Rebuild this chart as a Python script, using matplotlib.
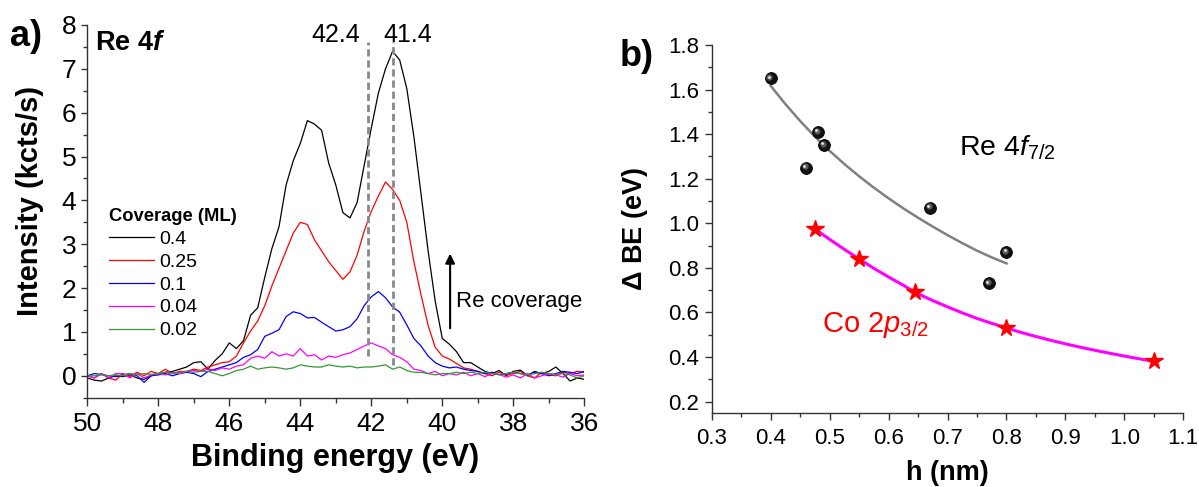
import numpy as np
import matplotlib
matplotlib.use("Agg")
import matplotlib.pyplot as plt
from matplotlib.transforms import offset_copy
from matplotlib.ticker import MultipleLocator

plt.rcParams['font.family'] = ['Liberation Sans', 'DejaVu Sans']
plt.rcParams['mathtext.fontset'] = 'custom'
plt.rcParams['mathtext.rm'] = 'Liberation Sans'
plt.rcParams['mathtext.it'] = 'Liberation Sans:italic'
plt.rcParams['mathtext.bf'] = 'Liberation Sans:bold'
try:
    plt.rcParams['mathtext.bfit'] = 'Liberation Sans:italic:bold'
except KeyError:
    pass

# ---------------- data: panel a ----------------
energy = np.linspace(50.0, 36.0, 71)  # binding energy grid (eV), 0.2 eV step
coverage_labels = ['0.4', '0.25', '0.1', '0.04', '0.02']
coverage_colors = ['#000000', '#ff0000', '#0000ff', '#ff00ff', '#339933']

int_040 = [-0.05, -0.10, -0.12, -0.05, 0.00, -0.02, 0.02, -0.05, -0.08, 0.00,
           0.05, 0.08, 0.10, 0.15, 0.20, 0.30, 0.32, 0.15, 0.35, 0.50,
           0.75, 0.62, 0.80, 1.38, 1.55, 2.25, 2.90, 3.40, 4.35, 4.90,
           5.30, 5.82, 5.74, 5.60, 4.85, 4.35, 3.72, 3.60, 3.95, 4.80,
           5.65, 6.45, 7.00, 7.40, 7.20, 6.55, 5.45, 4.15, 2.85, 1.70,
           0.85, 0.72, 0.55, 0.30, 0.30, 0.20, 0.10, 0.05, 0.12, 0.00,
           0.10, 0.13, 0.00, 0.10, 0.05, 0.10, 0.20, 0.05, -0.12, -0.05,
           -0.08]
int_025 = [0.00, -0.05, 0.05, -0.05, -0.10, 0.05, -0.02, 0.08, 0.00, 0.10,
           0.05, 0.15, 0.05, 0.10, 0.10, 0.15, 0.12, 0.20, 0.25, 0.30,
           0.32, 0.45, 0.75, 1.02, 1.25, 1.60, 2.05, 2.45, 2.85, 3.25,
           3.50, 3.45, 3.10, 2.85, 2.60, 2.40, 2.20, 2.37, 2.75, 3.30,
           3.75, 4.10, 4.42, 4.25, 4.00, 3.50, 2.60, 1.85, 1.15, 0.65,
           0.45, 0.38, 0.28, 0.18, 0.15, 0.10, 0.05, 0.00, 0.08, 0.02,
           0.05, 0.10, 0.00, -0.05, 0.08, 0.02, 0.00, 0.08, 0.05, 0.10,
           0.08]
int_010 = [0.00, 0.05, 0.03, 0.00, -0.02, 0.02, 0.05, 0.00, -0.15, 0.00,
           0.02, 0.05, 0.00, 0.05, 0.08, 0.05, -0.02, 0.10, 0.15, 0.20,
           0.25, 0.30, 0.42, 0.48, 0.60, 0.90, 0.97, 1.05, 1.35, 1.46,
           1.42, 1.32, 1.33, 1.22, 1.12, 1.02, 1.05, 1.12, 1.30, 1.60,
           1.80, 1.92, 1.78, 1.57, 1.45, 1.16, 0.85, 0.68, 0.45, 0.30,
           0.22, 0.18, 0.20, 0.15, 0.12, 0.10, 0.05, 0.08, 0.02, 0.05,
           0.08, 0.05, 0.02, 0.08, 0.05, 0.00, 0.05, 0.10, 0.08, 0.05,
           0.10]
int_004 = [0.00, -0.05, 0.05, -0.05, 0.05, 0.05, -0.05, 0.05, -0.05, 0.02,
           0.05, 0.02, 0.08, 0.05, 0.10, 0.12, 0.10, 0.15, 0.12, 0.18,
           0.15, 0.22, 0.25, 0.40, 0.45, 0.40, 0.55, 0.45, 0.50, 0.45,
           0.62, 0.45, 0.48, 0.36, 0.45, 0.42, 0.48, 0.52, 0.60, 0.68,
           0.75, 0.68, 0.62, 0.48, 0.42, 0.32, 0.15, 0.12, 0.05, 0.10,
           0.00, 0.05, 0.02, 0.08, 0.00, 0.05, -0.02, 0.05, 0.03, -0.03,
           0.02, -0.05, 0.05, -0.05, 0.00, 0.05, 0.02, -0.03, 0.05, 0.00,
           0.02]
int_002 = [0.00, 0.00, 0.02, 0.00, 0.02, 0.00, 0.05, 0.02, 0.05, 0.03,
           0.05, 0.08, 0.05, 0.08, 0.10, 0.08, 0.10, 0.10, 0.05, 0.00,
           0.05, 0.12, 0.15, 0.22, 0.15, 0.18, 0.20, 0.18, 0.15, 0.18,
           0.25, 0.22, 0.20, 0.20, 0.25, 0.22, 0.20, 0.22, 0.18, 0.20,
           0.20, 0.22, 0.25, 0.15, 0.20, 0.12, 0.08, 0.08, 0.05, 0.02,
           0.05, 0.05, 0.08, 0.05, 0.08, 0.05, 0.08, 0.05, 0.03, 0.05,
           0.08, 0.05, 0.02, 0.05, 0.08, 0.05, 0.03, 0.05, 0.02, -0.05,
           0.00]
spectra = [int_040, int_025, int_010, int_004, int_002]
peak_lines = [42.1, 41.4]
peak_line_bottoms = [0.45, 0.25]
peak_labels = ['42.4', '41.4']

# ---------------- data: panel b ----------------
re_h = [0.40, 0.48, 0.49, 0.46, 0.67, 0.80, 0.77]
re_dbe = [1.65, 1.41, 1.35, 1.25, 1.07, 0.87, 0.73]
re_fit_h = [0.400, 0.425, 0.450, 0.475, 0.500, 0.525, 0.550, 0.575, 0.600,
            0.625, 0.650, 0.675, 0.700, 0.725, 0.750, 0.775, 0.800]
re_fit_dbe = [1.617, 1.535, 1.459, 1.389, 1.325, 1.266, 1.211, 1.160, 1.112,
              1.067, 1.025, 0.985, 0.947, 0.911, 0.877, 0.847, 0.820]
co_h = [0.475, 0.55, 0.645, 0.80, 1.05]
co_dbe = [0.975, 0.84, 0.69, 0.53, 0.38]
co_fit_h = [0.475, 0.500, 0.525, 0.550, 0.575, 0.600, 0.625, 0.645, 0.675,
            0.700, 0.725, 0.750, 0.775, 0.800, 0.825, 0.850, 0.875, 0.900,
            0.925, 0.950, 0.975, 1.000, 1.025, 1.050]
co_fit_dbe = [0.975, 0.928, 0.883, 0.840, 0.798, 0.759, 0.722, 0.690, 0.653,
              0.625, 0.598, 0.573, 0.551, 0.530, 0.510, 0.492, 0.475, 0.459,
              0.444, 0.430, 0.417, 0.404, 0.392, 0.380]

W, H = 1199, 487
fig = plt.figure(figsize=(W / 100, H / 100), dpi=100)

def fx(px):
    return px / W

def fy(py):
    return 1 - py / H

# ---------------- panel a ----------------
axa = fig.add_axes([fx(87.3), fy(397.7), fx(584.3) - fx(87.3), fy(25) - fy(397.7)])
for vals, lab, col in zip(spectra, coverage_labels, coverage_colors):
    axa.plot(energy, vals, color=col, lw=0.9, label=lab)
for xv, yb in zip(peak_lines, peak_line_bottoms):
    axa.plot([xv, xv], [yb, 7.62], color='#888888', lw=2.0, ls=(0, (2.6, 1.4)))
axa.set_xlim(50, 36)
axa.set_ylim(-0.5, 8)
axa.xaxis.set_major_locator(MultipleLocator(2))
axa.xaxis.set_minor_locator(MultipleLocator(1))
axa.yaxis.set_minor_locator(MultipleLocator(0.5))
axa.set_yticks([0, 1, 2, 3, 4, 5, 6, 7, 8])
for s in ['top', 'right']:
    axa.spines[s].set_visible(False)
for s in ['left', 'bottom']:
    axa.spines[s].set_linewidth(1.0)
    axa.spines[s].set_color('#333333')
axa.tick_params(axis='x', which='major', direction='out', length=6, width=1, labelsize=19, pad=4, colors='#333333', labelcolor='black')
axa.tick_params(axis='x', which='minor', direction='out', length=3.5, width=1, colors='#333333')
axa.tick_params(axis='y', which='major', direction='out', length=4, width=1, labelsize=19, pad=4, colors='#333333', labelcolor='black')
axa.tick_params(axis='y', which='minor', direction='out', length=3, width=1, colors='#333333')

fig.text(fx(335), fy(458), 'Binding energy (eV)', ha='center', va='center', fontsize=22, fontweight='bold')
fig.text(fx(30), fy(201), 'Intensity (kcts/s)', ha='center', va='center', rotation=90, fontsize=21, fontweight='bold')
fig.text(fx(26), fy(36), 'a)', ha='center', va='center', fontsize=26, fontweight='bold')
fig.text(fx(95), fy(50), r'Re 4$\mathbfit{f}$', ha='left', va='baseline', fontsize=19.5, fontweight='bold')
fig.text(fx(336), fy(41.7), peak_labels[0], ha='center', va='baseline', fontsize=18)
fig.text(fx(408), fy(41.7), peak_labels[1], ha='center', va='baseline', fontsize=18)

axa.annotate('', xy=(39.78, 2.85), xytext=(39.78, 1.02),
             arrowprops=dict(arrowstyle='-|>', color='black', lw=1.5, mutation_scale=14))
axa.text(39.62, 1.69, 'Re coverage', ha='left', va='center', fontsize=16)

leg = axa.legend(loc='upper left', bbox_to_anchor=(fx(109), fy(208)), bbox_transform=fig.transFigure,
                 frameon=False, fontsize=14, handlelength=2.3, handletextpad=0.3, labelspacing=0.27,
                 borderaxespad=0, borderpad=0, title='Coverage (ML)',
                 title_fontproperties={'weight': 'bold', 'size': 13.2}, alignment='left')

# ---------------- panel b ----------------
axb = fig.add_axes([fx(711.7), fy(412.7), fx(1183.3) - fx(711.7), fy(45) - fy(412.7)])
axb.plot(re_fit_h, re_fit_dbe, color='#808080', lw=1.8, zorder=2)
axb.plot(co_fit_h, co_fit_dbe, color='#ff00ff', lw=2.2, zorder=2)
axb.plot(re_h, re_dbe, ls='none', marker='o', ms=8.5, mfc='#111111', mec='#000000', mew=0.6, zorder=3)
hl1 = offset_copy(axb.transData, fig=fig, x=-1.2, y=1.2, units='dots')
hl2 = offset_copy(axb.transData, fig=fig, x=-1.8, y=1.8, units='dots')
axb.plot(re_h, re_dbe, ls='none', marker='o', ms=4.5, mfc='#5a5a5a', mec='none', transform=hl1, zorder=4)
axb.plot(re_h, re_dbe, ls='none', marker='o', ms=2.0, mfc='#e8e8e8', mec='none', transform=hl2, zorder=5)
axb.plot(co_h, co_dbe, ls='none', marker='*', ms=13, mfc='#ff0000', mec='#ff0000', zorder=4)
axb.set_xlim(0.3, 1.1)
axb.set_ylim(0.15, 1.8)
axb.set_xticks([0.3, 0.4, 0.5, 0.6, 0.7, 0.8, 0.9, 1.0, 1.1])
axb.set_xticklabels(['0.3', '0.4', '0.5', '0.6', '0.7', '0.8', '0.9', '1.0', '1.1'])
axb.xaxis.set_minor_locator(MultipleLocator(0.05))
axb.set_yticks([0.2, 0.4, 0.6, 0.8, 1.0, 1.2, 1.4, 1.6, 1.8])
axb.set_yticklabels(['0.2', '0.4', '0.6', '0.8', '1.0', '1.2', '1.4', '1.6', '1.8'])
axb.yaxis.set_minor_locator(MultipleLocator(0.1))
for s in ['top', 'right']:
    axb.spines[s].set_visible(False)
for s in ['left', 'bottom']:
    axb.spines[s].set_linewidth(1.0)
    axb.spines[s].set_color('#333333')
axb.tick_params(axis='both', which='major', direction='out', length=5, width=1, labelsize=16, colors='#333333', labelcolor='black')
axb.tick_params(axis='x', which='major', pad=6)
axb.tick_params(axis='y', which='major', pad=4)
axb.tick_params(axis='both', which='minor', direction='out', length=3, width=1, colors='#333333')

fig.text(fx(947), fy(473), 'h (nm)', ha='center', va='center', fontsize=19.5, fontweight='bold')
fig.text(fx(635), fy(229), r'$\mathbf{\Delta}$ BE (eV)', ha='center', va='center', rotation=90, fontsize=19.5, fontweight='bold')
fig.text(fx(637), fy(56), 'b)', ha='center', va='center', fontsize=26, fontweight='bold')
fig.text(fx(959), fy(155), r'Re 4$\mathit{f}_{\mathregular{7/2}}$', ha='left', va='baseline', fontsize=20.5)
fig.text(fx(822), fy(331.7), r'Co 2$\mathit{p}_{\mathregular{3/2}}$', ha='left', va='baseline', fontsize=21, color='#ff0000')

fig.savefig('out.png', dpi=100)
